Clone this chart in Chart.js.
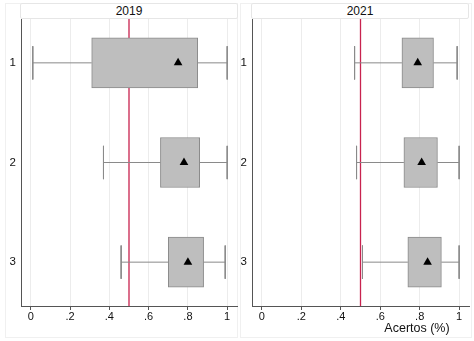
<!DOCTYPE html>
<html>
<head>
<meta charset="utf-8">
<script src="https://cdn.jsdelivr.net/npm/chart.js@4.4.1/dist/chart.umd.min.js"></script>
<style>
  body { margin: 0; background: #fff; font-family: "Liberation Sans", Arial, sans-serif; }
  #wrap { position: relative; width: 474px; height: 341px; overflow: hidden; }
  .painel { position: absolute; top: 0; height: 341px; }
  .moldura { position: absolute; border: 1px solid #f0f0f0; }
  .faixa { position: absolute; top: 3px; height: 14px; border: 1px solid #e6e6e6; border-radius: 2px;
           font-size: 12px; line-height: 14px; text-align: center; color: #111; background: #fff; }
  #tituloX { position: absolute; left: 380px; top: 321px; width: 74px; text-align: center;
             font-size: 12.5px; color: #111; white-space: nowrap; }
</style>
</head>
<body>
<div id="wrap">
  <div class="moldura" style="left:5px; top:3px; width:231px; height:333px;"></div>
  <div class="moldura" style="left:240px; top:3px; width:230px; height:333px;"></div>
  <div class="painel" style="left:0px; width:242px;"><canvas id="grafico2019" width="242" height="341"></canvas></div>
  <div class="painel" style="left:237px; width:237px;"><canvas id="grafico2021" width="237" height="341"></canvas></div>
  <div class="faixa" style="left:20px; width:216px;">2019</div>
  <div class="faixa" style="left:251px; width:216px;">2021</div>
  <div id="tituloX">Acertos (%)</div>
</div>
<script>
// categorias (posição vertical) e valores
const categorias = [1, 2, 3];
const ticksX = [0, 0.2, 0.4, 0.6, 0.8, 1];
const rotulosX = ['0', '.2', '.4', '.6', '.8', '1'];
const referencia = 0.5;

// 2019
const min2019   = [0.01, 0.37, 0.46];
const q1_2019   = [0.31, 0.66, 0.70];
const q3_2019   = [0.85, 0.86, 0.88];
const max2019   = [1.00, 1.00, 0.99];
const media2019 = [0.75, 0.78, 0.80];

// 2021
const min2021   = [0.47, 0.48, 0.51];
const q1_2021   = [0.71, 0.72, 0.74];
const q3_2021   = [0.87, 0.89, 0.91];
const max2021   = [0.99, 1.00, 1.00];
const media2021 = [0.79, 0.81, 0.84];

const corCaixa = '#bebebe';
const corBorda = '#8a8a8a';
const corRef = '#c8234f';

function montarDatasets(mins, q1s, q3s, maxs, medias) {
    const ds = [];
    // linha de referência
    ds.push({
        type: 'line',
        data: [{ x: referencia, y: 0.56 }, { x: referencia, y: 3.44 }],
        borderColor: corRef, borderWidth: 1.3, pointRadius: 0, order: 3
    });
    categorias.forEach((c, i) => {
        // bigodes
        ds.push({ type: 'line', data: [{ x: mins[i], y: c }, { x: q1s[i], y: c }],
                  borderColor: corBorda, borderWidth: 1, pointRadius: 0, order: 2 });
        ds.push({ type: 'line', data: [{ x: q3s[i], y: c }, { x: maxs[i], y: c }],
                  borderColor: corBorda, borderWidth: 1, pointRadius: 0, order: 2 });
        // extremidades
        ds.push({ type: 'line', data: [{ x: mins[i], y: c - 0.167 }, { x: mins[i], y: c + 0.167 }],
                  borderColor: corBorda, borderWidth: 1, pointRadius: 0, order: 2 });
        ds.push({ type: 'line', data: [{ x: maxs[i], y: c - 0.167 }, { x: maxs[i], y: c + 0.167 }],
                  borderColor: corBorda, borderWidth: 1, pointRadius: 0, order: 2 });
    });
    // caixas
    ds.push({
        type: 'bar',
        data: categorias.map((c, i) => ({ y: c, x: [q1s[i], q3s[i]] })),
        backgroundColor: corCaixa, borderColor: corBorda, borderWidth: 1,
        borderSkipped: false, barThickness: 50, order: 1
    });
    // médias
    ds.push({
        type: 'scatter',
        data: categorias.map((c, i) => ({ x: medias[i], y: c })),
        pointStyle: 'triangle', pointRadius: 5, backgroundColor: '#000', borderColor: '#000',
        borderWidth: 0, order: 0
    });
    return ds;
}

function criarGrafico(id, datasets, larguraY, padDir) {
    return new Chart(document.getElementById(id), {
        type: 'bar',
        data: { datasets: datasets },
        options: {
            indexAxis: 'y',
            responsive: false,
            animation: false,
            layout: { padding: { top: 19, left: 0, right: padDir, bottom: 0 } },
            plugins: { legend: { display: false }, tooltip: { enabled: false } },
            scales: {
                x: {
                    type: 'linear', min: -0.05, max: 1.05,
                    afterBuildTicks: s => { s.ticks = ticksX.map(v => ({ value: v })); },
                    afterFit: s => { s.height = 35; s.paddingLeft = 0; s.paddingRight = 0; },
                    grid: { color: '#ececec', tickColor: '#555', tickLength: 4 },
                    border: { display: true, color: '#555', width: 1 },
                    ticks: {
                        color: '#111', font: { size: 11, family: 'Liberation Sans' }, padding: 0,
                        maxRotation: 0,
                        callback: (v) => { const k = ticksX.indexOf(v); return k >= 0 ? rotulosX[k] : ''; }
                    }
                },
                y: {
                    type: 'linear', min: 0.56, max: 3.44, reverse: true, offset: false,
                    afterBuildTicks: s => { s.ticks = categorias.map(v => ({ value: v })); },
                    afterFit: s => { s.width = larguraY; s.paddingTop = 0; s.paddingBottom = 0; },
                    grid: { display: false, drawTicks: false, tickLength: 0 },
                    border: { display: true, color: '#555', width: 1 },
                    ticks: { color: '#111', font: { size: 11.5, family: 'Liberation Sans' }, padding: 5 }
                }
            }
        }
    });
}

criarGrafico('grafico2019', montarDatasets(min2019, q1_2019, q3_2019, max2019, media2019), 21, 0.5);
criarGrafico('grafico2021', montarDatasets(min2021, q1_2021, q3_2021, max2021, media2021), 15, 3);
</script>
</body>
</html>
